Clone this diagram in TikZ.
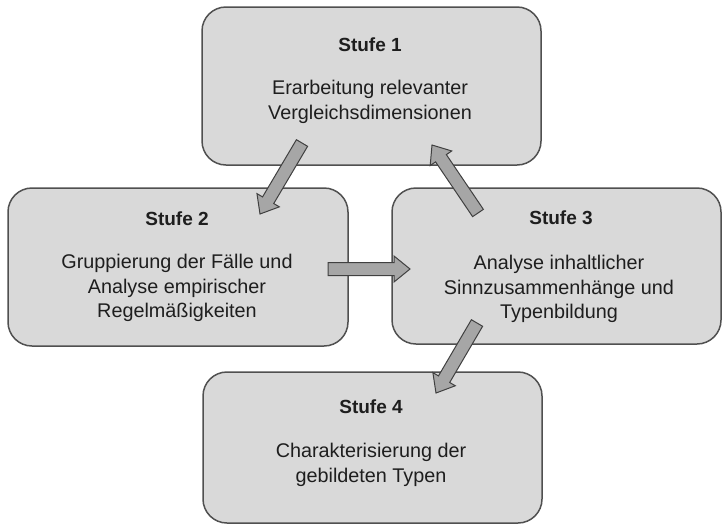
\documentclass[tikz,border=0pt]{standalone}
\usepackage{fontspec}
\setmainfont{Liberation Sans}
\usetikzlibrary{calc}
\definecolor{boxfill}{HTML}{D9D9D9}
\definecolor{boxline}{HTML}{505050}
\definecolor{arrfill}{HTML}{A6A6A6}
\definecolor{arrline}{HTML}{404040}
\definecolor{txt}{HTML}{1E1E1E}
\newcommand\blkarrow[2]{%
  \coordinate (ah) at ($(#2)!16pt!(#1)$);
  \draw[arr] ($(#1)!6.5pt!90:(#2)$) -- ($(ah)!6.5pt!-90:(#1)$) -- ($(ah)!13pt!-90:(#1)$) -- (#2)
    -- ($(ah)!13pt!90:(#1)$) -- ($(ah)!6.5pt!90:(#1)$) -- ($(#1)!6.5pt!-90:(#2)$) -- cycle;}
\begin{document}
\begin{tikzpicture}[x=1pt,y=-1pt,
  stagebox/.style={draw=boxline, fill=boxfill, line width=1.5pt, rounded corners=24pt, inner sep=0pt},
  title/.style={font=\fontsize{19}{22}\selectfont\bfseries, text=txt, inner sep=0pt},
  body/.style={font=\fontsize{19.8}{24.5}\selectfont, text=txt, align=center, inner sep=0pt},
  arr/.style={fill=arrfill, draw=arrline, line width=1pt, line join=miter}]
\useasboundingbox (0,0) rectangle (723,528);
\fill[white] (0,0) rectangle (723,528);

\node[stagebox, minimum width=339pt, minimum height=158pt] (b1) at (371.5,86) {};
\node[stagebox, minimum width=340pt, minimum height=158pt] (b2) at (178,267) {};
\node[stagebox, minimum width=329pt, minimum height=156pt] (b3) at (556.5,266) {};
\node[stagebox, minimum width=339pt, minimum height=151pt] (b4) at (372.5,447.5) {};

\node[title] (t1) at (370,45) {Stufe 1};
\node[body] (d1) at (370,102) {Erarbeitung relevanter\\Vergleichsdimensionen};
\node[title] (t2) at (177,219) {Stufe 2};
\node[body] (d2) at (177,288) {Gruppierung der Fälle und\\Analyse empirischer\\Regelmäßigkeiten};
\node[title] (t3) at (561,218) {Stufe 3};
\node[body] (d3) at (559,289) {Analyse inhaltlicher\\Sinnzusammenhänge und\\Typenbildung};
\node[title] (t4) at (371,407) {Stufe 4};
\node[body] (d4) at (371,465) {Charakterisierung der\\gebildeten Typen};

\coordinate (a1s) at (302,143); \coordinate (a1e) at (260,214);
\coordinate (a2s) at (478,213); \coordinate (a2e) at (432,145);
\coordinate (a3s) at (328,269); \coordinate (a3e) at (410,269);
\coordinate (a4s) at (477,323); \coordinate (a4e) at (436,393);
\blkarrow{a1s}{a1e}
\blkarrow{a2s}{a2e}
\blkarrow{a3s}{a3e}
\blkarrow{a4s}{a4e}
\end{tikzpicture}
\end{document}
